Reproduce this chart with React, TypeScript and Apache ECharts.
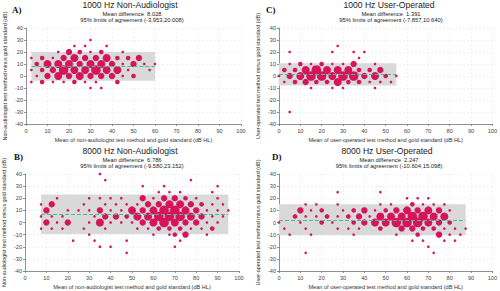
import React, { useEffect, useRef } from "react";
import * as echarts from "echarts";

// [mean x, difference y, number of observations level]
const panelA: number[][] = [
  [30, 30, 1],
  [22.5, 25, 1], [27.5, 25, 1], [37.5, 25, 1],
  [15, 20, 1], [20, 20, 3], [25, 20, 2], [30, 20, 1], [35, 20, 2], [45, 20, 1],
  [2.5, 15, 1], [7.5, 15, 2], [12.5, 15, 1], [17.5, 15, 3], [22.5, 15, 4], [27.5, 15, 3], [32.5, 15, 3], [37.5, 15, 4], [42.5, 15, 2], [47.5, 15, 2], [52.5, 15, 3],
  [5, 10, 2], [10, 10, 4], [15, 10, 4], [20, 10, 4], [25, 10, 3], [30, 10, 4], [35, 10, 4], [40, 10, 3], [45, 10, 1], [50, 10, 3], [55, 10, 1], [60, 10, 1],
  [2.5, 5, 1], [7.5, 5, 2], [12.5, 5, 3], [17.5, 5, 5], [22.5, 5, 4], [27.5, 5, 4], [32.5, 5, 5], [37.5, 5, 4], [42.5, 5, 4], [47.5, 5, 1], [57.5, 5, 1],
  [5, 0, 1], [10, 0, 3], [15, 0, 4], [20, 0, 3], [25, 0, 4], [30, 0, 3], [35, 0, 3], [40, 0, 3], [45, 0, 1], [50, 0, 2],
  [2.5, -5, 1], [7.5, -5, 2], [12.5, -5, 1], [17.5, -5, 1], [22.5, -5, 2], [27.5, -5, 1], [32.5, -5, 1], [42.5, -5, 2],
  [30, -10, 1], [35, -10, 1],
];

const panelC: number[][] = [
  [27.5, 25, 1],
  [5, 20, 1], [25, 20, 1], [35, 20, 1], [40, 20, 1],
  [37.5, 15, 1],
  [5, 10, 1], [10, 10, 2], [15, 10, 1], [20, 10, 2], [25, 10, 1], [30, 10, 1], [35, 10, 3], [45, 10, 1],
  [2.5, 5, 2], [7.5, 5, 2], [12.5, 5, 4], [17.5, 5, 5], [22.5, 5, 4], [27.5, 5, 4], [32.5, 5, 4], [37.5, 5, 2], [42.5, 5, 2], [47.5, 5, 3],
  [0, 0, 1], [5, 0, 3], [10, 0, 4], [15, 0, 5], [20, 0, 5], [25, 0, 4], [30, 0, 5], [35, 0, 5], [40, 0, 3], [45, 0, 4], [50, 0, 2], [55, 0, 1],
  [2.5, -5, 1], [7.5, -5, 2], [12.5, -5, 3], [17.5, -5, 2], [22.5, -5, 2], [27.5, -5, 4], [32.5, -5, 2], [37.5, -5, 2], [42.5, -5, 1], [47.5, -5, 1], [52.5, -5, 1],
  [15, -10, 1], [25, -10, 1], [30, -10, 1], [45, -10, 1],
  [5, -30, 1],
];

const panelB: number[][] = [
  [35, 40, 1],
  [37.5, 35, 1], [77.5, 35, 1],
  [55, 30, 1], [65, 30, 1], [90, 30, 1],
  [62.5, 25, 1], [67.5, 25, 1], [72.5, 25, 1], [87.5, 25, 1],
  [15, 20, 1], [30, 20, 1], [35, 20, 1], [40, 20, 1], [45, 20, 1], [55, 20, 3], [60, 20, 1], [65, 20, 3], [70, 20, 3], [75, 20, 2], [80, 20, 1], [90, 20, 1],
  [7.5, 15, 1], [12.5, 15, 3], [27.5, 15, 1], [37.5, 15, 1], [42.5, 15, 1], [47.5, 15, 1], [52.5, 15, 1], [57.5, 15, 3], [62.5, 15, 3], [67.5, 15, 4], [72.5, 15, 4], [77.5, 15, 3], [82.5, 15, 2], [87.5, 15, 1], [92.5, 15, 1],
  [10, 10, 3], [20, 10, 1], [25, 10, 1], [30, 10, 1], [35, 10, 3], [40, 10, 1], [45, 10, 1], [50, 10, 4], [55, 10, 3], [60, 10, 4], [65, 10, 5], [70, 10, 5], [75, 10, 4], [80, 10, 3], [85, 10, 1], [90, 10, 1], [95, 10, 1],
  [7.5, 5, 1], [12.5, 5, 1], [17.5, 5, 1], [32.5, 5, 1], [37.5, 5, 3], [42.5, 5, 3], [47.5, 5, 2], [52.5, 5, 4], [57.5, 5, 4], [62.5, 5, 5], [67.5, 5, 5], [72.5, 5, 5], [77.5, 5, 4], [82.5, 5, 3], [87.5, 5, 1], [92.5, 5, 1],
  [10, 0, 3], [15, 0, 1], [20, 0, 3], [30, 0, 1], [35, 0, 4], [40, 0, 1], [45, 0, 1], [50, 0, 1], [55, 0, 3], [60, 0, 4], [65, 0, 5], [70, 0, 4], [75, 0, 3], [80, 0, 3], [85, 0, 1], [90, 0, 1],
  [7.5, -5, 1], [12.5, -5, 1], [17.5, -5, 1], [27.5, -5, 1], [37.5, -5, 1], [52.5, -5, 1], [57.5, -5, 1], [62.5, -5, 2], [67.5, -5, 2], [72.5, -5, 2], [77.5, -5, 1], [82.5, -5, 1], [87.5, -5, 2],
  [30, -10, 1], [60, -10, 1], [67.5, -10, 1], [70, -10, 2], [75, -10, 3], [85, -10, 1],
  [22.5, -15, 1], [32.5, -15, 1], [47.5, -15, 1], [72.5, -15, 1],
  [35, -20, 1], [40, -20, 1], [70, -20, 1],
  [47.5, -25, 1],
];

const panelD: number[][] = [
  [27.5, 25, 1], [47.5, 25, 1],
  [60, 20, 1], [65, 20, 1], [70, 20, 1],
  [12.5, 15, 1], [17.5, 15, 1], [27.5, 15, 1], [47.5, 15, 1], [52.5, 15, 1], [62.5, 15, 2], [67.5, 15, 1], [72.5, 15, 1], [77.5, 15, 1],
  [10, 10, 3], [15, 10, 1], [20, 10, 2], [30, 10, 1], [35, 10, 2], [40, 10, 3], [45, 10, 1], [50, 10, 2], [55, 10, 3], [60, 10, 4], [65, 10, 3], [70, 10, 4], [75, 10, 3], [80, 10, 1],
  [7.5, 5, 2], [12.5, 5, 1], [17.5, 5, 1], [22.5, 5, 2], [27.5, 5, 1], [32.5, 5, 2], [37.5, 5, 3], [42.5, 5, 1], [47.5, 5, 4], [52.5, 5, 4], [57.5, 5, 4], [62.5, 5, 5], [67.5, 5, 5], [72.5, 5, 4], [77.5, 5, 4],
  [0, 0, 1], [10, 0, 1], [20, 0, 2], [25, 0, 1], [35, 0, 2], [40, 0, 3], [45, 0, 4], [50, 0, 4], [55, 0, 5], [60, 0, 5], [65, 0, 5], [70, 0, 4], [75, 0, 3], [80, 0, 2],
  [2.5, -5, 1], [12.5, -5, 1], [27.5, -5, 1], [32.5, -5, 1], [37.5, -5, 1], [47.5, -5, 2], [57.5, -5, 3], [62.5, -5, 3], [67.5, -5, 2], [72.5, -5, 2], [77.5, -5, 1], [82.5, -5, 1], [87.5, -5, 1],
  [5, -10, 1], [15, -10, 1], [35, -10, 1], [55, -10, 1], [65, -10, 2], [75, -10, 3], [80, -10, 1], [85, -10, 1],
  [62.5, -15, 1], [67.5, -15, 1], [77.5, -15, 1], [82.5, -15, 1],
  [70, -20, 1],
  [12.5, -25, 1], [72.5, -25, 1],
];

const panelLetters = ["A)", "B)", "C)", "D)"];
const panelTitles = ["1000 Hz Non-Audiologist", "8000 Hz Non-Audiologist", "1000 Hz User-Operated", "8000 Hz User-Operated"];
const meanDiffs = [8.028, 6.786, 1.391, 2.247];
const loaLower = [-3.953, -9.58, -7.857, -10.604];
const loaUpper = [20.008, 23.152, 10.64, 15.098];
const meanLabels = ["8.028", "6.786", "1.391", "2.247"];
const loaLabels = ["(-3.953,20.008)", "(-9.580,23.152)", "(-7.857,10.640)", "(-10.604,15.098)"];
const xAxisNames = [
  "Mean of non-audiologist test method and gold standard (dB HL)",
  "Mean of non-audiologist test method and gold standard (dB HL)",
  "Mean of user-operated test method and gold standard (dB HL)",
  "Mean of user-operated test method and gold standard (dB HL)",
];
const yAxisNames = [
  "Non-audiologist test method minus gold standard (dB)",
  "Non-audiologist test method minus gold standard (dB)",
  "User-operated test method minus gold standard (dB)",
  "User-operated test method minus gold standard (dB)",
];
const panelData = [panelA, panelB, panelC, panelD];

// layout
const grids = [
  { left: 26, top: 28, width: 215, height: 96 },
  { left: 25, top: 174, width: 214, height: 98 },
  { left: 279, top: 28, width: 217, height: 96 },
  { left: 279, top: 174, width: 217, height: 97 },
];
const titleCenters = [
  { x: 130, y: 5 },
  { x: 130, y: 151 },
  { x: 389, y: 5 },
  { x: 387, y: 151 },
];
const letterPos = [
  { x: 12, y: 10 },
  { x: 14, y: 157 },
  { x: 266, y: 10 },
  { x: 272, y: 157 },
];

const SIZES = [0, 2.6, 4.6, 6.4, 8, 9.6];
const RED = "#D6145A";
const FONT = "Liberation Sans, Arial, sans-serif";

export default function App() {
  const ref = useRef<HTMLDivElement>(null);
  useEffect(() => {
    if (!ref.current) return;
    const chart = echarts.init(ref.current, undefined, { renderer: "svg" });

    const xAxis: any[] = [];
    const yAxis: any[] = [];
    const series: any[] = [];
    const graphic: any[] = [];

    panelData.forEach((data, i) => {
      const xs = data.map((d) => d[0]);
      const xmin = Math.min(...xs);
      const xmax = Math.max(...xs);
      xAxis.push({
        gridIndex: i,
        type: "value",
        min: 0,
        max: 100,
        interval: 10,
        name: xAxisNames[i],
        nameLocation: "middle",
        nameGap: 13,
        nameTextStyle: { fontSize: 5.6, color: "#333", fontFamily: FONT },
        axisLine: { show: true, onZero: false, lineStyle: { color: "#777", width: 0.8 } },
        axisTick: { show: true, length: 2, lineStyle: { color: "#777", width: 0.8 } },
        axisLabel: { fontSize: 5.6, color: "#444", margin: 4, fontFamily: FONT },
        splitLine: { show: true, lineStyle: { color: "#e6e6e6", type: [2, 2], width: 0.6 } },
      });
      yAxis.push({
        gridIndex: i,
        type: "value",
        min: -40,
        max: 40,
        interval: 10,
        name: yAxisNames[i],
        nameLocation: "middle",
        nameGap: 19,
        nameTextStyle: { fontSize: 5.4, color: "#333", fontFamily: FONT },
        axisLine: { show: true, onZero: false, lineStyle: { color: "#777", width: 0.8 } },
        axisTick: { show: true, length: 2, lineStyle: { color: "#777", width: 0.8 } },
        axisLabel: { fontSize: 5.6, color: "#444", margin: 3, fontFamily: FONT },
        splitLine: { show: true, lineStyle: { color: "#e6e6e6", type: [2, 2], width: 0.6 } },
      });
      series.push({
        type: "line",
        xAxisIndex: i,
        yAxisIndex: i,
        data: [],
        z: 1,
        silent: true,
        markArea: {
          silent: true,
          itemStyle: { color: "#d9d9d9" },
          data: [[{ coord: [xmin, loaLower[i]] }, { coord: [xmax, loaUpper[i]] }]],
        },
      });
      series.push({
        type: "line",
        xAxisIndex: i,
        yAxisIndex: i,
        data: [],
        z: 2,
        silent: true,
        markLine: {
          silent: true,
          symbol: "none",
          label: { show: false },
          lineStyle: { color: "#45BE8E", type: [4, 2], width: 1.2 },
          data: [[{ coord: [xmin, meanDiffs[i]] }, { coord: [xmax, meanDiffs[i]] }]],
        },
      });
      series.push({
        type: "scatter",
        xAxisIndex: i,
        yAxisIndex: i,
        z: 3,
        data: data,
        symbol: "circle",
        symbolSize: (v: number[]) => SIZES[v[2]],
        itemStyle: { color: RED, opacity: 1 },
      });

      const tc = titleCenters[i];
      graphic.push({
        type: "text",
        x: tc.x,
        y: tc.y,
        style: {
          text: panelTitles[i],
          fontSize: 8.6,
          fontFamily: FONT,
          fill: "#222",
          align: "center",
          verticalAlign: "middle",
          textAlign: "center",
          textVerticalAlign: "middle",
        },
      });
      graphic.push({
        type: "text",
        x: tc.x + 2,
        y: tc.y + 9,
        style: {
          text: "Mean difference  " + meanLabels[i],
          fontSize: 5.8,
          fontFamily: FONT,
          fill: "#222",
          align: "center",
          verticalAlign: "middle",
          textAlign: "center",
          textVerticalAlign: "middle",
        },
      });
      graphic.push({
        type: "text",
        x: tc.x + 2,
        y: tc.y + 14.5,
        style: {
          text: "95% limits of agreement " + loaLabels[i],
          fontSize: 5.8,
          fontFamily: FONT,
          fill: "#222",
          align: "center",
          verticalAlign: "middle",
          textAlign: "center",
          textVerticalAlign: "middle",
        },
      });
      const lp = letterPos[i];
      graphic.push({
        type: "text",
        x: lp.x,
        y: lp.y,
        style: {
          text: panelLetters[i],
          fontSize: 9,
          fontWeight: "bold",
          fontFamily: "Liberation Serif, Times New Roman, serif",
          fill: "#111",
          align: "left",
          verticalAlign: "middle",
          textAlign: "left",
          textVerticalAlign: "middle",
        },
      });
    });

    chart.setOption({
      animation: false,
      backgroundColor: "#ffffff",
      grid: grids.map((g) => ({ ...g, containLabel: false })),
      xAxis,
      yAxis,
      series,
      graphic,
    });
    return () => chart.dispose();
  }, []);

  return <div ref={ref} style={{ width: 500, height: 291, position: "absolute", left: 0, top: 0 }} />;
}
